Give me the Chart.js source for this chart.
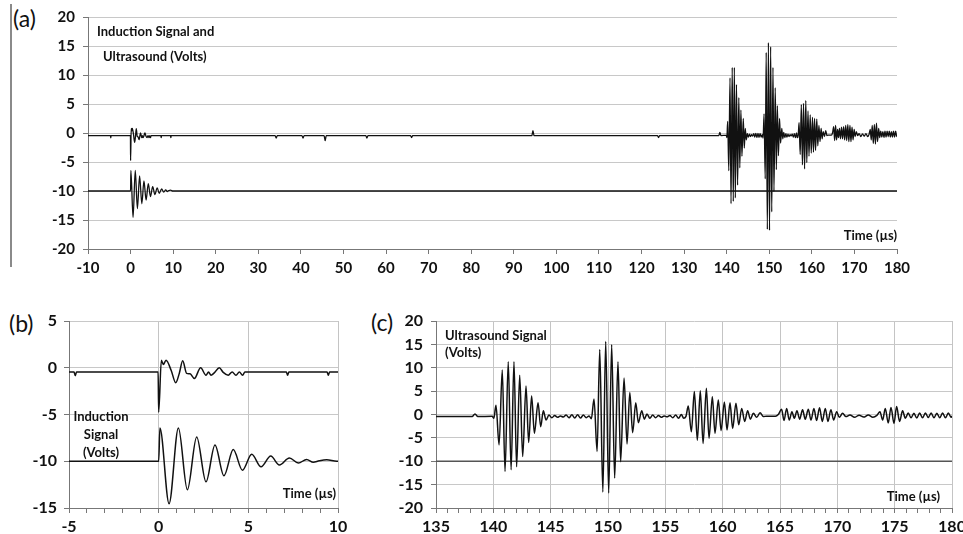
<!DOCTYPE html>
<html lang="en">
<head>
<meta charset="UTF-8">
<title>Induction Signal and Ultrasound</title>
<script src="https://cdn.jsdelivr.net/npm/chart.js"></script>
<style>
  body {
    margin: 0;
    width: 963px;
    height: 534px;
    position: relative;
    overflow: hidden;
    background: #fff;
    font-family: Lato, "Open Sans", sans-serif;
  }
  .box { position: absolute; }
  .tag { position: absolute; font-size: 23px; color: #111; line-height: 1; }
  #frame { position: absolute; left: 10px; top: 4px; width: 2px; height: 263px; background: #8a8a8a; }
</style>
</head>
<body>
<div id="frame"></div>
<div class="tag" style="left:13px;top:7px">(a)</div>
<div class="tag" style="left:9px;top:312px">(b)</div>
<div class="tag" style="left:371px;top:311px">(c)</div>

<div class="box" style="left:0;top:0;width:963px;height:285px"><canvas id="chartA"></canvas></div>
<div class="box" style="left:0;top:290px;width:365px;height:244px"><canvas id="chartB"></canvas></div>
<div class="box" style="left:365px;top:290px;width:610px;height:244px"><canvas id="chartC"></canvas></div>

<script>
// ---- data (time in µs, volts) ----

// upper trace: pickup of the induction pulse around t = 0
const pickupTime  = [-10, -4.72, -4.65, -4.58, -0.03, 0.0, 0.15, 0.26, 0.41, 0.7, 0.95, 1.15, 1.34, 1.56, 1.75, 1.99, 2.34, 2.64, 2.78, 2.92, 3.1, 3.38, 3.6, 3.88, 4.1, 4.31, 4.5, 4.68, 4.81, 7.12, 7.19, 7.26, 9.39, 9.46, 9.53];
const pickupVolts = [-0.45, -0.45, -0.85, -0.45, -0.45, -4.75, 0.8, 0.35, 0.8, -0.3, -1.6, -0.6, 0.75, -0.6, -0.65, -1.15, 0.0, -0.8, -0.45, -0.8, -0.55, 0.0, -0.5, -0.8, -0.45, -0.8, -0.45, -0.8, -0.45, -0.45, -0.8, -0.45, -0.45, -0.8, -0.45];

// upper trace: small stray spikes before the echoes
const spikeTime  = [33.95, 34.2, 34.45, 40.25, 40.5, 40.75, 45.45, 45.7, 45.95, 55.25, 55.5, 55.75, 65.75, 66, 66.25, 94.25, 94.5, 94.75, 123.75, 124, 124.25, 138.15, 138.4, 138.65];
const spikeVolts = [-0.45, -0.9, -0.45, -0.45, -0.9, -0.45, -0.45, -1.3, -0.45, -0.45, -0.9, -0.45, -0.45, -0.8, -0.45, -0.45, 0.4, -0.45, -0.45, -0.8, -0.45, -0.45, 0.1, -0.45];

// upper trace: ultrasound echoes
const echo1Time  = [139.9, 140.05, 140.23, 140.5, 140.78, 141.02, 141.3, 141.55, 141.8, 142.03, 142.3, 142.56, 142.85, 143.08, 143.34, 143.58, 143.9, 144.13, 144.36, 144.6, 144.85, 145.1, 145.35, 145.6, 145.85, 146.1, 146.35, 146.6, 146.85, 147.1, 147.35, 147.6, 147.85, 148.1, 148.35, 148.55];
const echo1Volts = [-0.4, -0.8, 2.0, -6.5, 9.5, -12.2, 11.3, -11.8, 11.3, -11.2, 8.4, -9.0, 6.1, -6.0, 3.95, -4.0, 2.5, -2.6, 0.8, -1.2, -0.1, -0.7, -0.2, -0.6, -0.3, -0.55, -0.1, -0.7, -0.05, -0.75, -0.05, -0.75, -0.1, -0.7, -0.3, -0.9];

const echo2Time  = [148.78, 149.05, 149.28, 149.55, 149.8, 150.06, 150.32, 150.58, 150.87, 151.1, 151.4, 151.66, 151.9, 152.15, 152.42, 152.65, 152.94, 153.17, 153.4, 153.65, 153.9, 154.15, 154.4, 154.65, 154.9, 155.15, 155.4, 155.65, 155.9, 156.15, 156.4, 156.6, 156.8];
const echo2Volts = [3.3, -7.9, 13.9, -16.6, 15.6, -16.8, 14.9, -13.6, 11.3, -10.1, 7.8, -6.3, 4.7, -3.9, 2.5, -1.75, 0.8, -1.0, 0.1, -0.8, -0.1, -0.7, -0.2, -0.6, -0.3, -0.5, -0.2, -0.7, -0.1, -0.8, 0.0, -0.8, -0.4];

const echo3Time  = [157.0, 157.27, 157.53, 157.79, 158.05, 158.29, 158.58, 158.81, 159.1, 159.33, 159.62, 159.86, 160.15, 160.38, 160.64, 160.87, 161.16, 161.4, 161.66, 161.92, 162.18, 162.41, 162.68, 162.97, 163.26, 163.55, 163.8, 164.6];
const echo3Volts = [1.8, -3.7, 4.9, -5.5, 5.1, -6.2, 5.6, -5.1, 3.8, -4.0, 3.1, -3.45, 2.7, -3.3, 2.5, -3.0, 2.4, -2.2, 1.3, -1.5, 0.8, -1.0, 0.25, -0.6, 0.4, -0.45, -0.35, -0.35];

const echo4Time  = [164.85, 165.14, 165.35, 165.58, 165.81, 166.04, 166.25, 166.48, 166.71, 166.97, 167.2, 167.47, 167.7, 167.96, 168.19, 168.45, 168.69, 168.95, 169.18, 169.44, 169.68, 169.94, 170.17, 170.46, 170.75, 171.1, 171.5, 171.9, 172.3, 172.7, 173.1, 173.45];
const echo4Volts = [0.0, 1.1, -1.3, 1.3, -1.2, 0.6, -0.8, 0.8, -1.0, 1.0, -1.0, 1.1, -1.2, 1.3, -1.3, 1.45, -1.5, 1.3, -1.5, 1.0, -1.2, 0.6, -0.6, 0.25, -0.45, -0.1, -0.6, -0.15, -0.55, -0.1, -0.6, -0.2];

const echo5Time  = [173.72, 173.95, 174.18, 174.44, 174.68, 174.94, 175.17, 175.43, 175.69, 175.93, 176.18, 176.43, 176.68, 176.93, 177.18, 177.43, 177.68, 177.93, 178.18, 178.43, 178.68, 178.93, 179.18, 179.43, 179.68, 179.93, 180];
const echo5Volts = [0.6, -1.2, 1.3, -1.8, 1.5, -1.9, 1.7, -1.5, 0.8, -0.8, 0.3, -0.7, 0.25, -0.75, 0.3, -0.7, 0.3, -0.65, 0.3, -0.7, 0.25, -0.7, 0.3, -0.7, 0.3, -0.6, -0.3];

// lower trace: the induction signal, offset to -10 V
const inductionTime  = [-10, 0.0, 0.07, 0.58, 1.10, 1.60, 2.12, 2.64, 3.14, 3.64, 4.16, 4.67, 5.19, 5.71, 6.25, 6.73, 7.29, 7.79, 8.25, 8.62, 8.95, 9.37, 9.93, 180];
const inductionVolts = [-10, -10, -6.45, -14.55, -6.45, -13.05, -7.4, -12.2, -8.25, -11.55, -8.75, -10.95, -9.25, -10.6, -9.45, -10.4, -9.65, -10.2, -9.8, -10.1, -9.95, -9.85, -10, -10];

// ---- build point lists ----
function pairs(ts, vs) {
  return ts.map((t, i) => ({ x: t, y: vs[i] }));
}
const upperTrace = [].concat(
  pairs(pickupTime, pickupVolts),
  pairs(spikeTime, spikeVolts),
  pairs(echo1Time, echo1Volts),
  pairs(echo2Time, echo2Volts),
  pairs(echo3Time, echo3Volts),
  pairs(echo4Time, echo4Volts),
  pairs(echo5Time, echo5Volts)
);
const lowerTrace = pairs(inductionTime, inductionVolts);

const FONT = 'Lato, "Open Sans", sans-serif';
Chart.defaults.font.family = FONT;
Chart.defaults.font.weight = 'bold';
Chart.defaults.color = '#111';

// text notes written on top of each panel
const notes = {
  id: 'notes',
  afterDraw(chart, args, opts) {
    const ctx = chart.ctx;
    ctx.save();
    ctx.fillStyle = '#111';
    ctx.font = 'bold 13px ' + FONT;
    ctx.textBaseline = 'middle';
    (opts.items || []).forEach(n => {
      ctx.textAlign = n.align || 'left';
      ctx.fillText(n.text, n.x, n.y);
    });
    ctx.restore();
  }
};

function drawPanel(id, cfg) {
  const minorX = cfg.minor;
  return new Chart(document.getElementById(id), {
    type: 'line',
    data: {
      datasets: [
        { data: upperTrace, borderColor: '#111', borderWidth: cfg.lw, pointRadius: 0, cubicInterpolationMode: 'monotone' },
        { data: lowerTrace, borderColor: cfg.lowColor, borderWidth: cfg.lw, pointRadius: 0, cubicInterpolationMode: 'monotone' }
      ]
    },
    options: {
      responsive: true,
      maintainAspectRatio: false,
      animation: false,
      events: [],
      layout: { padding: cfg.pad },
      plugins: {
        legend: { display: false },
        tooltip: { enabled: false },
        notes: { items: cfg.notes }
      },
      scales: {
        x: {
          type: 'linear',
          min: cfg.xmin,
          max: cfg.xmax,
          afterFit: s => { s.height = cfg.xh; },
          ticks: {
            stepSize: minorX ? 1 : 10,
            autoSkip: false,
            maxRotation: 0,
            padding: cfg.xpad,
            font: { size: cfg.fs },
            callback: v => (!minorX || Math.round(v) % 5 === 0) ? String(Math.round(v)) : ''
          },
          grid: {
            drawOnChartArea: minorX,
            color: ctx => (ctx.tick && Math.round(ctx.tick.value) % 5 === 0) ? '#c4c4c4' : 'rgba(0,0,0,0)',
            tickColor: '#777',
            tickLength: 5
          },
          border: { color: '#777', width: 1 }
        },
        y: {
          min: cfg.ymin,
          max: cfg.ymax,
          afterFit: s => { s.width = cfg.yw; },
          ticks: { stepSize: 5, padding: cfg.ypad, font: { size: cfg.fs } },
          grid: { color: '#c8c8c8', tickColor: '#777', tickLength: 5 },
          border: { color: '#777', width: 1 }
        }
      }
    },
    plugins: [notes]
  });
}

// (a) full record
drawPanel('chartA', {
  xmin: -10, xmax: 180, ymin: -20, ymax: 20, minor: false,
  pad: { left: 0, right: 66, top: 14, bottom: 0 },
  yw: 88, xh: 36, xpad: 5, ypad: 8, fs: 15, lw: 1.3, lowColor: '#111',
  notes: [
    { text: 'Induction Signal and', x: 97, y: 32 },
    { text: 'Ultrasound (Volts)', x: 103, y: 57 },
    { text: 'Time (µs)', x: 897, y: 236, align: 'right' }
  ]
});

// (b) around the induction pulse
drawPanel('chartB', {
  xmin: -5, xmax: 10, ymin: -15, ymax: 5, minor: true,
  pad: { left: 0, right: 27, top: 31, bottom: 0 },
  yw: 69, xh: 26, xpad: 4, ypad: 7, fs: 16, lw: 1.5, lowColor: '#111',
  notes: [
    { text: 'Induction', x: 101, y: 127, align: 'center' },
    { text: 'Signal', x: 101, y: 145, align: 'center' },
    { text: '(Volts)', x: 101, y: 163, align: 'center' },
    { text: 'Time (µs)', x: 336, y: 204, align: 'right' }
  ]
});

// (c) the ultrasound echoes
drawPanel('chartC', {
  xmin: 135, xmax: 180, ymin: -20, ymax: 20, minor: true,
  pad: { left: 0, right: 23, top: 31, bottom: 0 },
  yw: 71, xh: 26, xpad: 4, ypad: 8, fs: 16, lw: 1.5, lowColor: '#555',
  notes: [
    { text: 'Ultrasound Signal', x: 80, y: 46 },
    { text: '(Volts)', x: 80, y: 63 },
    { text: 'Time (µs)', x: 575, y: 207, align: 'right' }
  ]
});
</script>
</body>
</html>
